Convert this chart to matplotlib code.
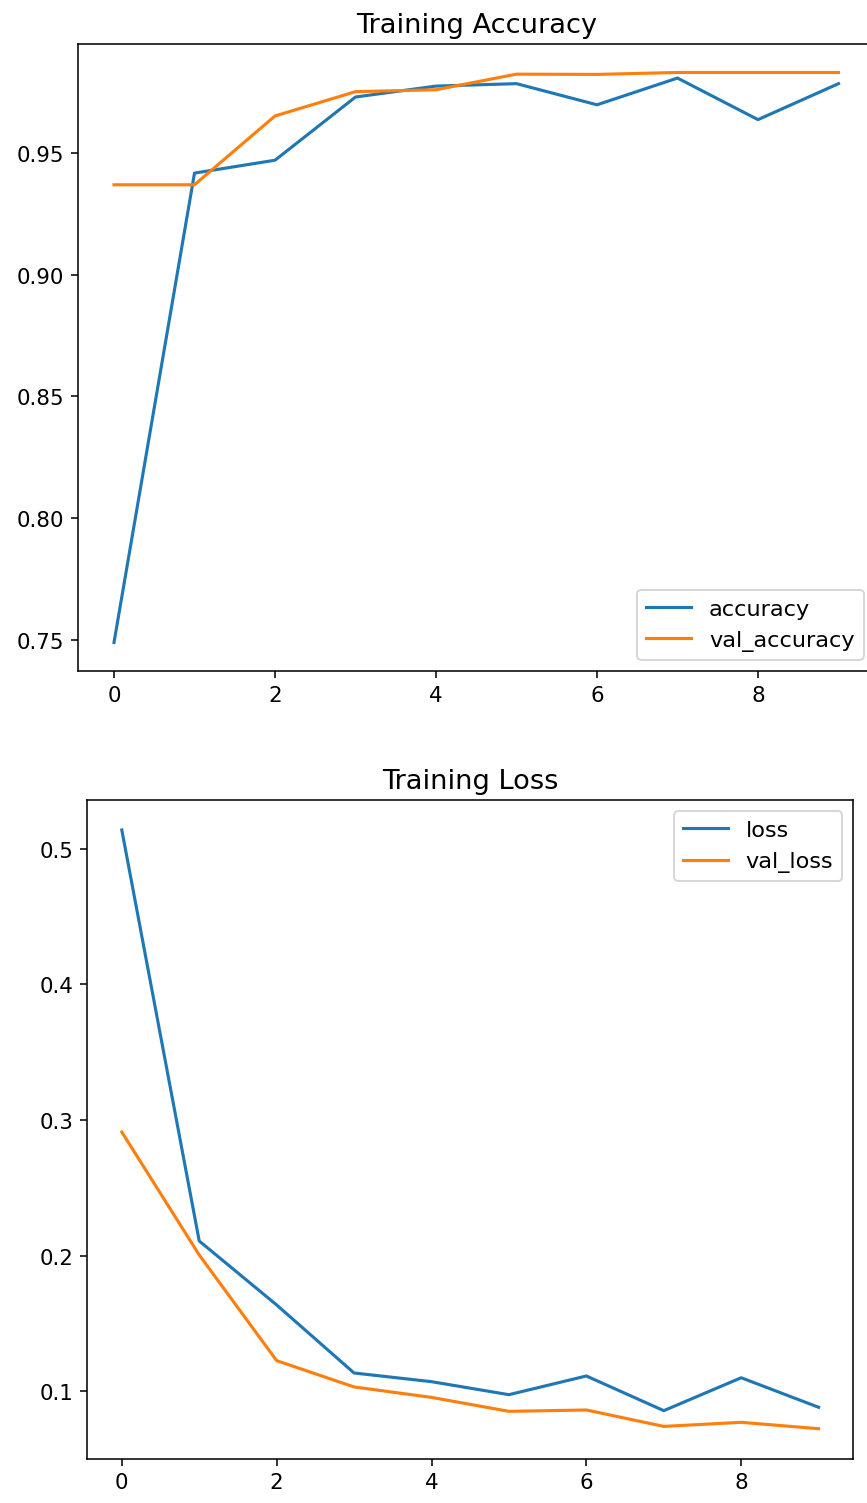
import matplotlib
matplotlib.use("Agg")
import matplotlib.pyplot as plt

epochs = list(range(10))

accuracy = [0.7488, 0.9419, 0.9472, 0.9732, 0.9777, 0.9787, 0.9700, 0.9810, 0.9639, 0.9787]
val_accuracy = [0.9371, 0.9371, 0.9654, 0.9754, 0.9762, 0.9826, 0.9825, 0.9833, 0.9833, 0.9833]

loss = [0.514, 0.2107, 0.1635, 0.1133, 0.1069, 0.0973, 0.1111, 0.0855, 0.1098, 0.0880]
val_loss = [0.2911, 0.2004, 0.1224, 0.1030, 0.0953, 0.0850, 0.0860, 0.0739, 0.0769, 0.0722]

plt.rcParams["xtick.labelsize"] = 11
plt.rcParams["ytick.labelsize"] = 11

fig = plt.figure(figsize=(867 / 140, 1504 / 140), dpi=140)

# top panel runs a little past the right edge, like the cropped original
ax1 = fig.add_axes([0.0897, 0.5532, 0.9192, 0.4169])
ax1.plot(epochs, accuracy, label="accuracy", linewidth=1.6)
ax1.plot(epochs, val_accuracy, label="val_accuracy", linewidth=1.6)
ax1.set_title("Training Accuracy", fontsize=14)
ax1.legend(loc="lower right", fontsize=11.5)

ax2 = fig.add_axes([0.1003, 0.0295, 0.8841, 0.4379])
ax2.plot(epochs, loss, label="loss", linewidth=1.6)
ax2.plot(epochs, val_loss, label="val_loss", linewidth=1.6)
ax2.set_title("Training Loss", fontsize=14)
ax2.legend(loc="upper right", fontsize=11.5)

fig.savefig("out.png", dpi=140)
